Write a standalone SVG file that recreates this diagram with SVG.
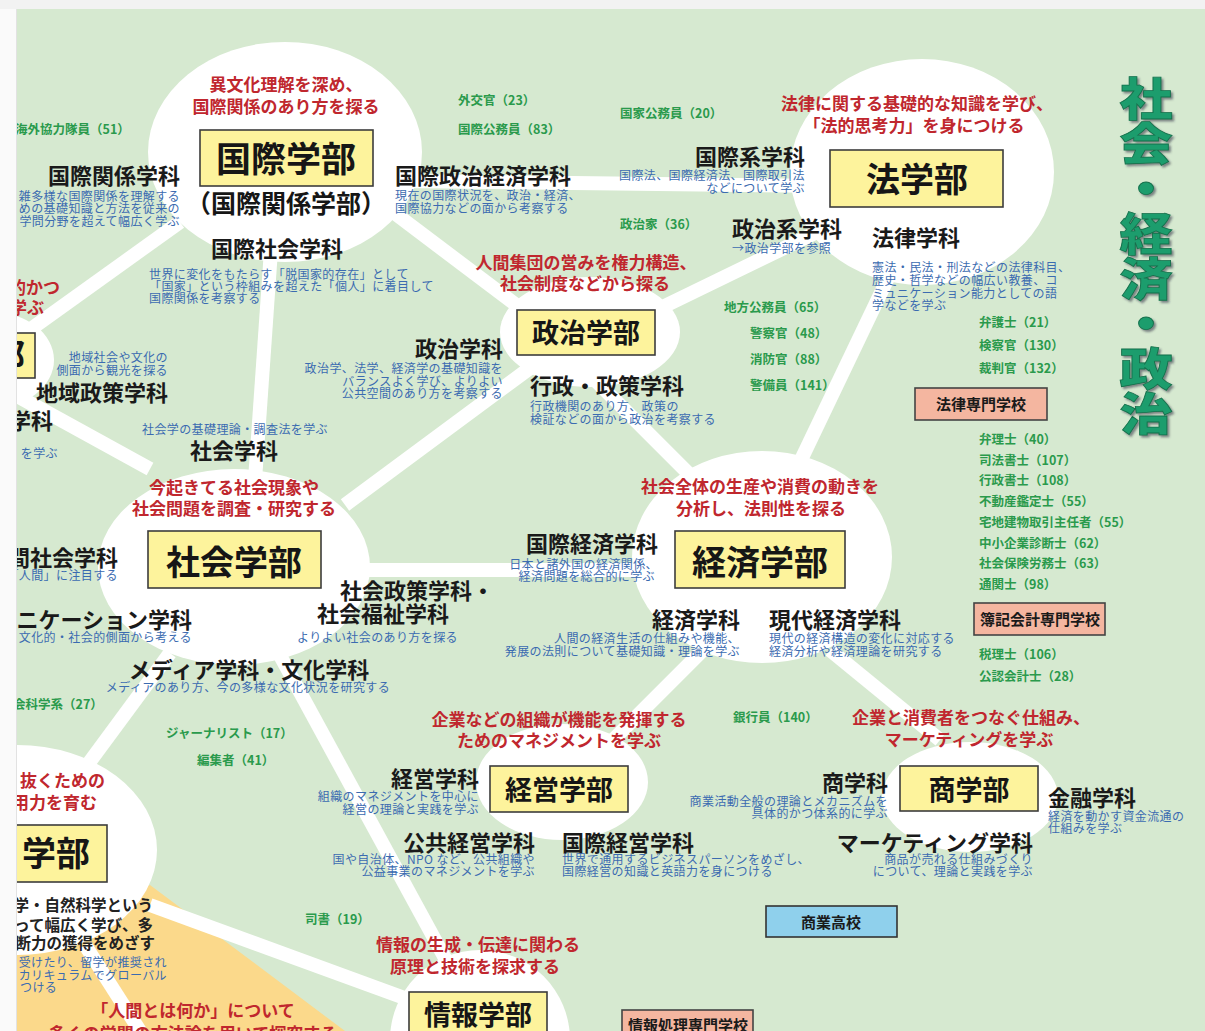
<svg xmlns="http://www.w3.org/2000/svg" width="1205" height="1031" viewBox="0 0 1205 1031">
<defs>
<style>
text{font-family:'Noto Sans CJK JP','Noto Sans',sans-serif}
.blob{fill:#ffffff}
.conn line{stroke:#ffffff;stroke-width:14;stroke-linecap:butt}
.box{fill:#fdf39c;stroke:#3c3c3c;stroke-width:1.6}
.fac{font-weight:700;fill:#161616;text-anchor:middle}
.dept{font-size:22px;font-weight:700;fill:#1a1a1a}
.desc{font-size:12px;fill:#3b6bb0;letter-spacing:0.4px}
.red{font-size:17px;font-weight:700;fill:#c0272e;text-anchor:middle}
.job{font-size:12.5px;font-weight:700;fill:#2a9a4c}
.school{fill:#f4b6a0;stroke:#444;stroke-width:1.6}
.hs{fill:#8fd0ec;stroke:#333;stroke-width:1.6}
.stext{font-size:15px;font-weight:700;fill:#1a1a1a;text-anchor:middle}
.blk{font-size:15.5px;font-weight:700;fill:#222;text-anchor:end}
.e{text-anchor:end}
.m{text-anchor:middle}
.title{font-size:45px;font-weight:900;fill:#1e9d6d;stroke:#14704c;stroke-width:0.8;writing-mode:vertical-rl}
</style>
<filter id="sh" x="-20%" y="-20%" width="140%" height="140%">
<feDropShadow dx="2" dy="2" stdDeviation="0.8" flood-color="#334" flood-opacity="0.55"/>
</filter>
</defs>

<!-- background -->
<rect x="0" y="0" width="1205" height="1031" fill="#d6e9d0"/>

<!-- orange region (off-canvas faculty) -->
<g id="region-ningen">
<polygon points="17,935 150,885 345,1031 17,1031" fill="#fbd98b"/>
</g>

<!-- connectors -->
<g id="connectors" class="conn">
<line x1="400" y1="181" x2="830" y2="186"/>
<line x1="360" y1="187" x2="540" y2="323"/>
<line x1="271" y1="250" x2="255" y2="480"/>
<line x1="180" y1="222" x2="10" y2="344"/>
<line x1="10" y1="392" x2="150" y2="469"/>
<line x1="345" y1="505" x2="530" y2="368"/>
<line x1="590" y1="375" x2="700" y2="485"/>
<line x1="640" y1="318" x2="850" y2="216"/>
<line x1="899" y1="255" x2="800" y2="462"/>
<line x1="360" y1="570" x2="640" y2="570"/>
<line x1="277" y1="650" x2="446" y2="960"/>
<line x1="705" y1="648" x2="610" y2="743"/>
<line x1="830" y1="650" x2="940" y2="740"/>
<line x1="80" y1="775" x2="170" y2="653"/>
<line x1="150" y1="905" x2="410" y2="1000"/>
<line x1="85" y1="945" x2="140" y2="1031"/>
</g>

<!-- 情報学部 -->
<g id="node-joho">
<ellipse class="blob" cx="480" cy="1040" rx="90" ry="90"/>
<text class="red" x="478" y="951">情報の生成・伝達に関わる</text>
<text class="red" x="475" y="973">原理と技術を探求する</text>
<rect class="box" x="409" y="992" width="138" height="50"/>
<text class="fac" x="478" y="1025" font-size="27">情報学部</text>
</g>

<!-- 経営学部 -->
<g id="node-keiei">
<ellipse class="blob" cx="562" cy="782" rx="86" ry="58"/>
<text class="red" x="559" y="726">企業などの組織が機能を発揮する</text>
<text class="red" x="559" y="747">ためのマネジメントを学ぶ</text>
<rect class="box" x="490" y="766" width="138" height="46"/>
<text class="fac" x="559" y="800" font-size="27">経営学部</text>
<text class="dept e" x="479" y="787">経営学科</text>
<text class="desc e" x="479" y="801">組織のマネジメントを中心に</text>
<text class="desc e" x="479" y="814">経営の理論と実践を学ぶ</text>
<text class="dept e" x="535" y="851">公共経営学科</text>
<text class="desc e" x="535" y="864">国や自治体、NPO など、公共組織や</text>
<text class="desc e" x="535" y="876">公益事業のマネジメントを学ぶ</text>
<text class="dept" x="562" y="851">国際経営学科</text>
<text class="desc" x="562" y="864">世界で通用するビジネスパーソンをめざし、</text>
<text class="desc" x="562" y="876">国際経営の知識と英語力を身につける</text>
</g>

<!-- 商学部 -->
<g id="node-sho">
<ellipse class="blob" cx="970" cy="797" rx="88" ry="55"/>
<text class="red" x="971" y="724">企業と消費者をつなぐ仕組み、</text>
<text class="red" x="969" y="746">マーケティングを学ぶ</text>
<rect class="box" x="900" y="766" width="138" height="45"/>
<text class="fac" x="969" y="800" font-size="27">商学部</text>
<text class="dept e" x="888" y="791">商学科</text>
<text class="desc e" x="888" y="806">商業活動全般の理論とメカニズムを</text>
<text class="desc e" x="888" y="818">具体的かつ体系的に学ぶ</text>
<text class="dept" x="1048" y="806">金融学科</text>
<text class="desc" x="1048" y="821">経済を動かす資金流通の</text>
<text class="desc" x="1048" y="833">仕組みを学ぶ</text>
<text class="dept e" x="1033" y="851">マーケティング学科</text>
<text class="desc e" x="1033" y="864">商品が売れる仕組みづくり</text>
<text class="desc e" x="1033" y="876">について、理論と実践を学ぶ</text>
</g>

<!-- 経済学部 -->
<g id="node-keizai">
<ellipse class="blob" cx="762" cy="557" rx="130" ry="106"/>
<text class="red" x="760" y="493">社会全体の生産や消費の動きを</text>
<text class="red" x="761" y="515">分析し、法則性を探る</text>
<rect class="box" x="675" y="531" width="170" height="57"/>
<text class="fac" x="760" y="575" font-size="34">経済学部</text>
<text class="dept e" x="658" y="552">国際経済学科</text>
<text class="desc e" x="658" y="569">日本と諸外国の経済関係、</text>
<text class="desc e" x="655" y="581">経済問題を総合的に学ぶ</text>
<text class="dept e" x="740" y="628">経済学科</text>
<text class="desc e" x="740" y="643">人間の経済生活の仕組みや機能、</text>
<text class="desc e" x="740" y="656">発展の法則について基礎知識・理論を学ぶ</text>
<text class="dept" x="769" y="628">現代経済学科</text>
<text class="desc" x="769" y="643">現代の経済構造の変化に対応する</text>
<text class="desc" x="769" y="656">経済分析や経済理論を研究する</text>
</g>

<!-- 社会学部 -->
<g id="node-shakai">
<ellipse class="blob" cx="234" cy="567" rx="136" ry="98"/>
<text class="desc m" x="235" y="434">社会学の基礎理論・調査法を学ぶ</text>
<text class="dept m" x="234" y="459">社会学科</text>
<text class="red" x="234" y="494">今起きてる社会現象や</text>
<text class="red" x="234" y="515">社会問題を調査・研究する</text>
<rect class="box" x="148" y="531" width="173" height="57"/>
<text class="fac" x="234" y="575" font-size="34">社会学部</text>
<text class="dept e" x="118" y="566">間社会学科</text>
<text class="desc e" x="118" y="580">「人間」に注目する</text>
<text class="dept e" x="192" y="628">ニケーション学科</text>
<text class="desc e" x="192" y="642">文化的・社会的側面から考える</text>
<text class="dept" x="340" y="599">社会政策学科・</text>
<text class="dept" x="317" y="622">社会福祉学科</text>
<text class="desc" x="297" y="642">よりよい社会のあり方を探る</text>
<text class="dept m" x="249" y="678">メディア学科・文化学科</text>
<text class="desc m" x="248" y="692">メディアのあり方、今の多様な文化状況を研究する</text>
</g>

<!-- 政治学部 -->
<g id="node-seiji">
<ellipse class="blob" cx="590" cy="332" rx="90" ry="55"/>
<text class="red" x="586" y="269" font-size="16.5">人間集団の営みを権力構造、</text>
<text class="red" x="585" y="290" font-size="16.5">社会制度などから探る</text>
<rect class="box" x="517" y="310" width="138" height="45"/>
<text class="fac" x="586" y="343" font-size="27">政治学部</text>
<text class="dept e" x="503" y="357">政治学科</text>
<text class="desc e" x="503" y="373">政治学、法学、経済学の基礎知識を</text>
<text class="desc e" x="503" y="386">バランスよく学び、よりよい</text>
<text class="desc e" x="503" y="398">公共空間のあり方を考察する</text>
<text class="dept" x="530" y="394">行政・政策学科</text>
<text class="desc" x="530" y="411">行政機関のあり方、政策の</text>
<text class="desc" x="530" y="424">検証などの面から政治を考察する</text>
</g>

<!-- 国際学部 -->
<g id="node-kokusai">
<ellipse class="blob" cx="285" cy="152" rx="137" ry="110"/>
<text class="red" x="286" y="91">異文化理解を深め、</text>
<text class="red" x="286" y="113">国際関係のあり方を探る</text>
<rect class="box" x="200" y="130" width="173" height="56"/>
<text class="fac" x="286" y="172" font-size="35">国際学部</text>
<text class="fac" x="286" y="213" font-size="25">（国際関係学部）</text>
<text class="dept e" x="180" y="184">国際関係学科</text>
<text class="desc e" x="180" y="201">雑多様な国際関係を理解する</text>
<text class="desc e" x="180" y="213">めの基礎知識と方法を従来の</text>
<text class="desc e" x="180" y="226">学問分野を超えて幅広く学ぶ</text>
<text class="dept m" x="277" y="257">国際社会学科</text>
<text class="desc" x="149" y="279">世界に変化をもたらす「脱国家的存在」として</text>
<text class="desc" x="149" y="291">「国家」という枠組みを超えた「個人」に着目して</text>
<text class="desc" x="149" y="303">国際関係を考察する</text>
<text class="dept" x="395" y="184">国際政治経済学科</text>
<text class="desc" x="395" y="200">現在の国際状況を、政治・経済、</text>
<text class="desc" x="395" y="213">国際協力などの面から考察する</text>
</g>

<!-- 法学部 -->
<g id="node-hou">
<ellipse class="blob" cx="922" cy="172" rx="132" ry="113"/>
<text class="red" x="917" y="110">法律に関する基礎的な知識を学び、</text>
<text class="red" x="914" y="132">「法的思考力」を身につける</text>
<rect class="box" x="830" y="150" width="173" height="57"/>
<text class="fac" x="917" y="192" font-size="34">法学部</text>
<text class="dept e" x="805" y="165">国際系学科</text>
<text class="desc e" x="805" y="180">国際法、国際経済法、国際取引法</text>
<text class="desc e" x="805" y="193">などについて学ぶ</text>
<text class="dept" x="732" y="237">政治系学科</text>
<text class="desc" x="732" y="253" font-size="11">→政治学部を参照</text>
<text class="dept" x="872" y="246">法律学科</text>
<text class="desc" x="872" y="272">憲法・民法・刑法などの法律科目、</text>
<text class="desc" x="872" y="285">歴史・哲学などの幅広い教養、コ</text>
<text class="desc" x="872" y="298">ミュニケーション能力としての語</text>
<text class="desc" x="872" y="310">学などを学ぶ</text>
</g>

<!-- left-top faculty (partially visible) -->
<g id="node-left-top">
<ellipse class="blob" cx="-8" cy="360" rx="62" ry="48"/>
<text class="red e" x="60" y="294">的かつ</text>
<text class="red e" x="44" y="314">学ぶ</text>
<rect class="box" x="-5" y="333" width="40" height="45"/>
<text class="fac e" x="25" y="368" font-size="34">部</text>
<text class="desc e" x="168" y="362">地域社会や文化の</text>
<text class="desc e" x="168" y="375">側面から観光を探る</text>
<text class="dept e" x="168" y="401">地域政策学科</text>
<text class="dept e" x="53" y="429">学科</text>
<text class="desc e" x="58" y="458">を学ぶ</text>
</g>

<!-- left-bottom faculty (partially visible) -->
<g id="node-left-bottom">
<ellipse class="blob" cx="17" cy="850" rx="140" ry="105"/>
<text class="red e" x="105" y="787">抜くための</text>
<text class="red e" x="97" y="809">用力を育む</text>
<rect class="box" x="-5" y="825" width="112" height="57"/>
<text class="fac e" x="90" y="866" font-size="34">学部</text>
<text class="blk" x="153" y="911">学・自然科学という</text>
<text class="blk" x="153" y="931">って幅広く学び、多</text>
<text class="blk" x="155" y="949">断力の獲得をめざす</text>
<text class="desc e" x="167" y="967">受けたり、留学が推奨され</text>
<text class="desc e" x="167" y="980">カリキュラムでグローバル</text>
<text class="desc" x="20" y="992">つける</text>
</g>

<!-- 人間 region texts -->
<g id="node-ningen">
<text class="red" x="193" y="1017">「人間とは何か」について</text>
<text class="red" x="193" y="1040">多くの学問の方法論を用いて探究する</text>
</g>

<!-- schools -->
<g id="school-houritsu">
<rect class="school" x="915" y="388" width="132" height="32"/>
<text class="stext" x="981" y="410" font-size="16">法律専門学校</text>
</g>
<g id="school-boki">
<rect class="school" x="974" y="603" width="131" height="32"/>
<text class="stext" x="1040" y="625">簿記会計専門学校</text>
</g>
<g id="school-shogyo">
<rect class="hs" x="766" y="906" width="131" height="31"/>
<text class="stext" x="831" y="928" font-size="16">商業高校</text>
</g>
<g id="school-joho">
<rect class="school" x="622" y="1010" width="131" height="32"/>
<text class="stext" x="688" y="1031">情報処理専門学校</text>
</g>

<!-- occupations -->
<g id="jobs" class="job">
<text x="15" y="134">海外協力隊員（51）</text>
<text x="458" y="105">外交官（23）</text>
<text x="458" y="134">国際公務員（83）</text>
<text x="620" y="118">国家公務員（20）</text>
<text x="620" y="229">政治家（36）</text>
<text x="724" y="312">地方公務員（65）</text>
<text x="750" y="338">警察官（48）</text>
<text x="750" y="364">消防官（88）</text>
<text x="750" y="390">警備員（141）</text>
<text x="979" y="327">弁護士（21）</text>
<text x="979" y="350">検察官（130）</text>
<text x="979" y="373">裁判官（132）</text>
<text x="979" y="444">弁理士（40）</text>
<text x="979" y="465">司法書士（107）</text>
<text x="979" y="485">行政書士（108）</text>
<text x="979" y="506">不動産鑑定士（55）</text>
<text x="979" y="527">宅地建物取引主任者（55）</text>
<text x="979" y="548">中小企業診断士（62）</text>
<text x="979" y="568">社会保険労務士（63）</text>
<text x="979" y="589">通関士（98）</text>
<text x="979" y="659">税理士（106）</text>
<text x="979" y="681">公認会計士（28）</text>
<text x="733" y="722">銀行員（140）</text>
<text x="13" y="709">会科学系（27）</text>
<text x="166" y="738">ジャーナリスト（17）</text>
<text x="197" y="765">編集者（41）</text>
<text x="305" y="924">司書（19）</text>
</g>

<!-- title -->
<g id="title" filter="url(#sh)">
<text class="title" x="1146" y="76" transform="translate(1146 0) scale(1.18 1) translate(-1146 0)">社会・経済・政治</text>
</g>

<!-- page margins -->
<rect x="0" y="0" width="17" height="1031" fill="#fafafa"/>
<line x1="16.5" y1="9" x2="16.5" y2="1031" stroke="#e2e2e2" stroke-width="1"/>
<rect x="0" y="0" width="1205" height="9" fill="#f2f2f2"/>
</svg>
